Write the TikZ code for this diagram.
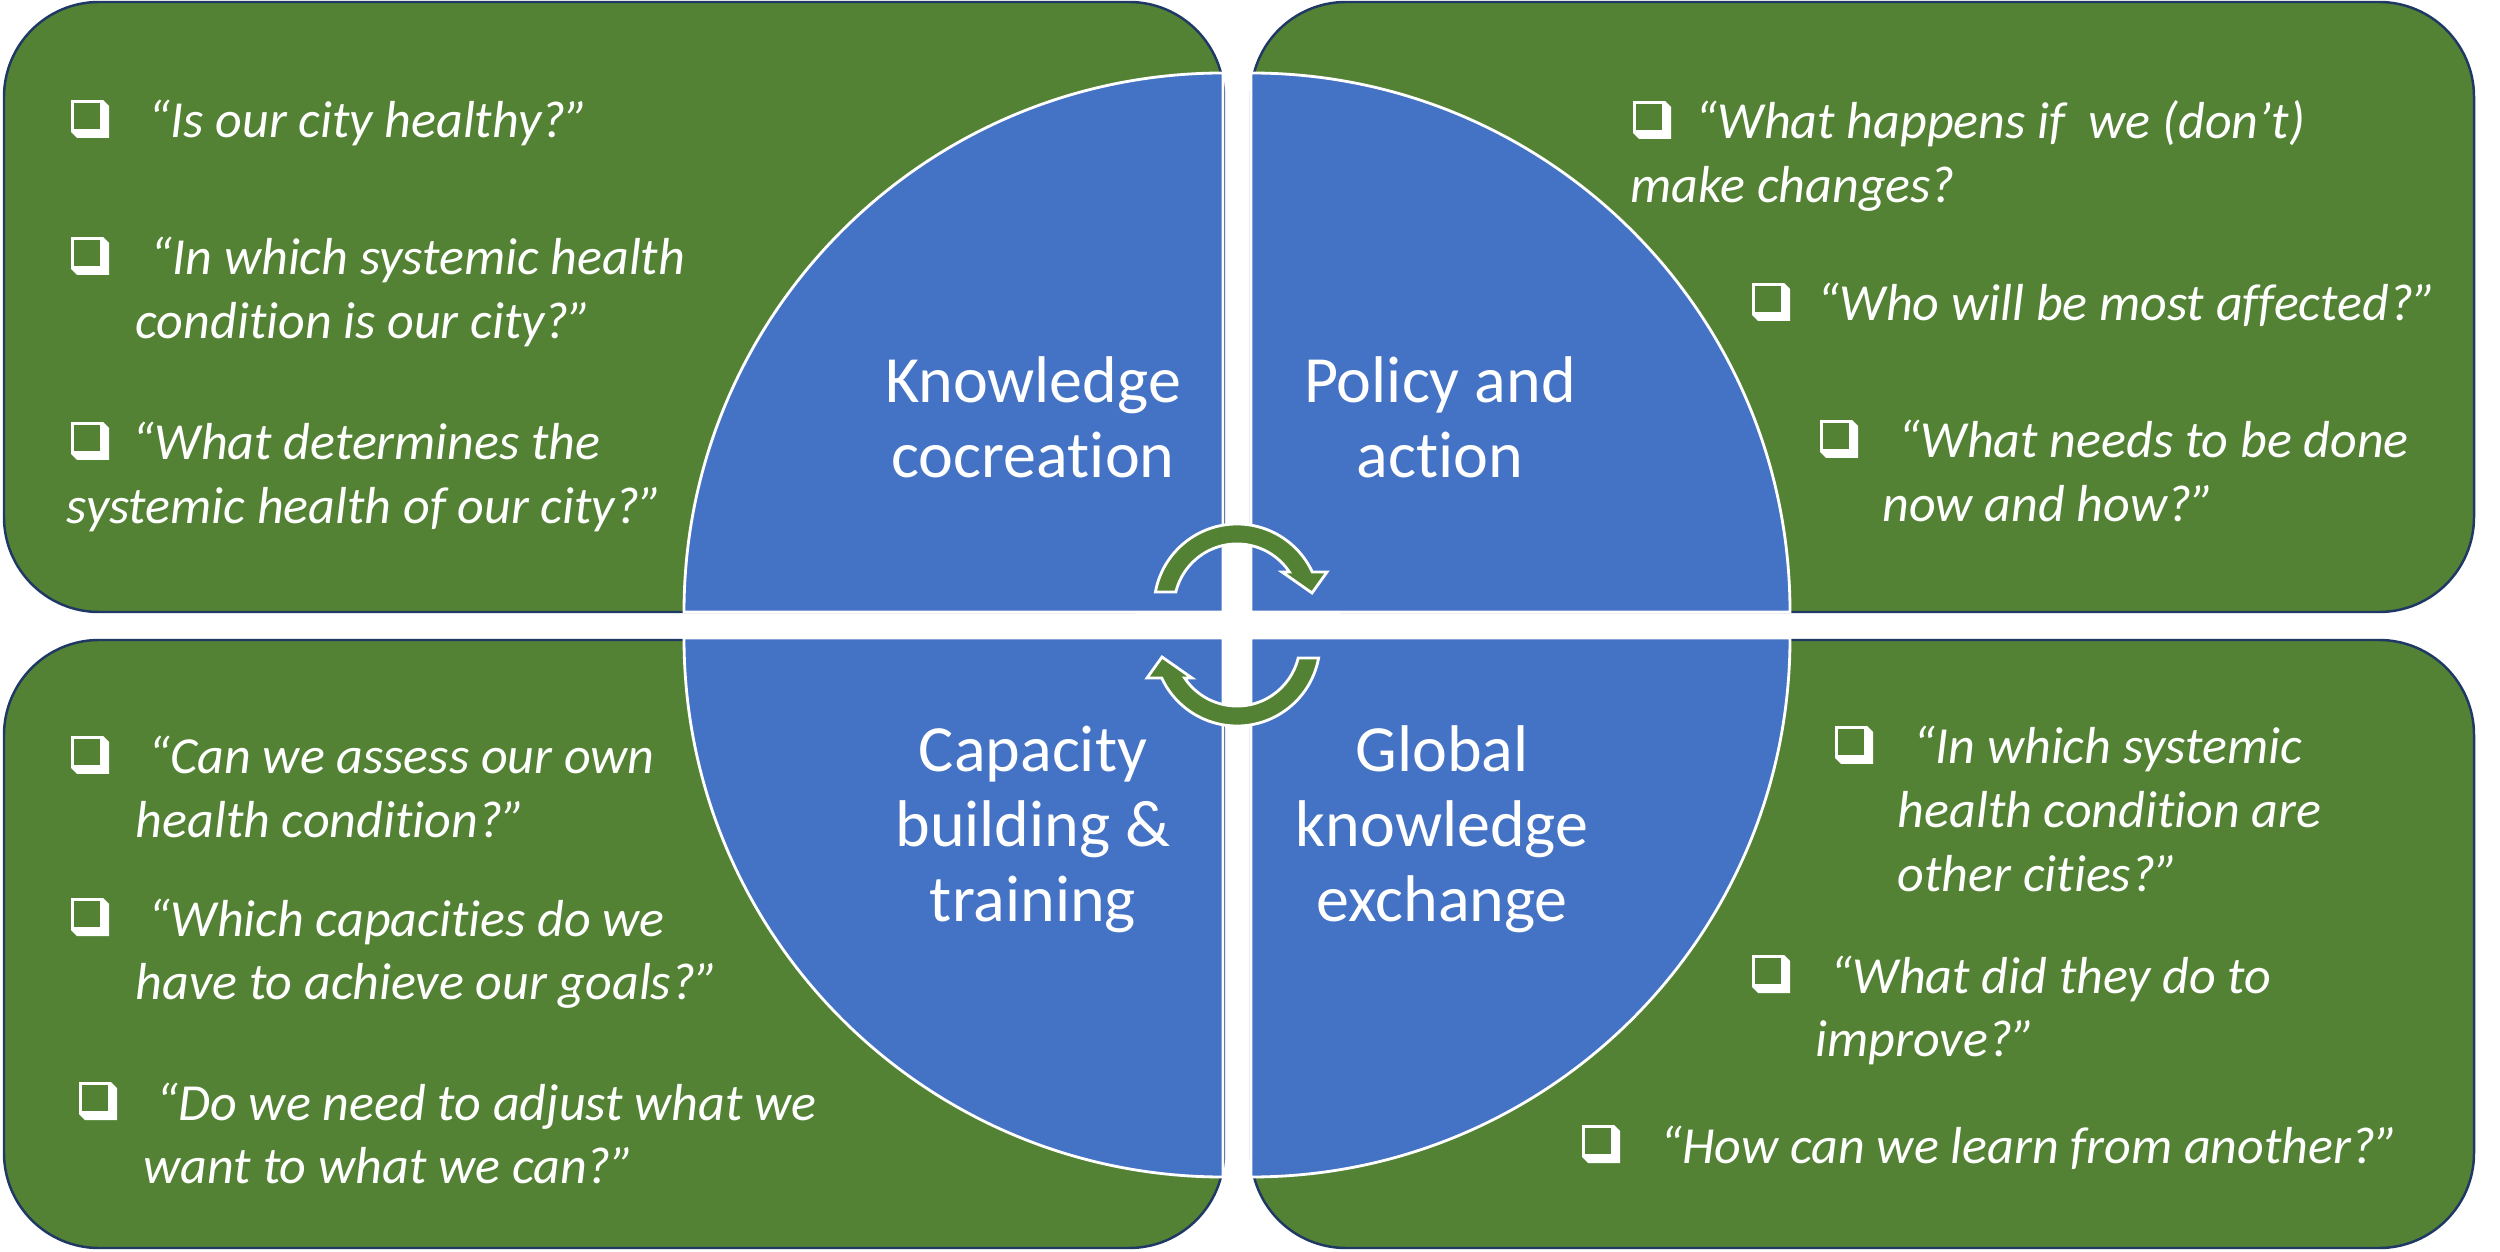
\documentclass[tikz,border=0pt]{standalone}
\usepackage{fontspec}
\setmainfont{Carlito}[Ligatures=CommonOff]
\newdimen\pxu \pxu=0.01cm
\definecolor{boxgreen}{HTML}{548235}
\definecolor{quadblue}{HTML}{4472C4}
\definecolor{navy}{HTML}{1F3864}
\newcommand\stackc[1]{\vtop{\halign{\hfil##\hfil\cr#1\crcr}}}
\newcommand\twol[3]{\vtop{\hbox{#1}\hbox{\hskip#2\pxu\relax#3}}}
\begin{document}
\begin{tikzpicture}[x=0.01cm,y=0.01cm,
  gbox/.style={fill=boxgreen, draw=navy, line width=0.7pt, rounded corners=27pt},
  quad/.style={fill=quadblue, draw=white, line width=0.8pt},
  lbl/.style={text=white, inner sep=0pt, anchor=base, font=\fontsize{18.78}{21.2}\selectfont},
  qst/.style={text=white, inner sep=0pt, anchor=base west, font=\fontsize{14.8}{18.07}\selectfont\itshape},
  cyc/.style={fill=boxgreen, draw=white, line width=0.8pt},
  cbox/.pic={
    \fill[white] (32,38) -- (38,32) -- (38,0) -- (6,0) -- (0,6) -- (32,6) -- cycle;
    \draw[white, line width=0.8pt] (1.5,7.5) rectangle (30.5,36.5);
  },
  cycarrow/.pic={
    \path[cyc] (-61.2,15) -- (-81.6,15) arc[start angle=169.6, end angle=24.9, radius=83]
      -- (90,35) -- (75,14) -- (45,35) -- (52.4,35)
      arc[start angle=33.7, end angle=166.2, radius=63] -- cycle;
  }
]
\useasboundingbox (0,0) rectangle (2500,1251);

% green panels
\path[gbox] (4,639) rectangle (1224,1249);
\path[gbox] (1251,639) rectangle (2474,1249);
\path[gbox] (4,3) rectangle (1224,611);
\path[gbox] (1251,3) rectangle (2474,611);

% blue quadrants
\path[quad] (1223,639) -- ++(-539,0) arc[start angle=180, end angle=90, radius=539] -- cycle;
\path[quad] (1251,639) -- ++(0,539) arc[start angle=90, end angle=0, radius=539] -- cycle;
\path[quad] (1223,613) -- ++(0,-539) arc[start angle=270, end angle=180, radius=539] -- cycle;
\path[quad] (1251,613) -- ++(539,0) arc[start angle=0, end angle=-90, radius=539] -- cycle;

% cycle arrows
\pic at (1237,644) {cycarrow};
\pic[rotate=180] at (1237,608) {cycarrow};

% quadrant labels
\node[lbl] (kc) at (1033,848) {\stackc{Knowledge\cr cocreation}};
\node[lbl] (pa) at (1440,848) {\stackc{Policy and\cr action}};
\node[lbl] (cb) at (1033,479) {\stackc{Capacity\cr building \&\cr training}};
\node[lbl] (gk) at (1442,479) {\stackc{Global\cr knowledge\cr exchange}};

% top-left questions
\pic at (71,1113) {cbox};
\node[qst] (tl1) at (148,1113) {“Is our city healthy?”};
\pic at (71,976) {cbox};
\node[qst] (tl2) at (150,976) {\twol{“In which systemic health}{-15}{condition is our city?”}};
\pic at (71,791) {cbox};
\node[qst] (tl3) at (132,791) {\twol{“What determines the}{-66}{systemic health of our city?”}};

% top-right questions
\pic at (1633,1112) {cbox};
\node[qst] (tr1) at (1695,1112) {\twol{“What happens if~ we (don’t)}{-65}{make changes?}};
\pic at (1752,930) {cbox};
\node[qst] (tr2) at (1817,930) {“Who will be most affected?”};
\pic at (1820,793) {cbox};
\node[qst] (tr3) at (1898,793) {\twol{“What needs to be done}{-16}{now and how?”}};

% bottom-left questions
\pic at (71,477) {cbox};
\node[qst] (bl1) at (148,477) {\twol{“Can we assess our own}{-13}{health condition?”}};
\pic at (71,315) {cbox};
\node[qst] (bl2) at (148,315) {\twol{“Which capacities do we}{-13}{have to achieve our goals?”}};
\pic at (79,131) {cbox};
\node[qst] (bl3) at (156,131) {\twol{“Do we need to adjust what we}{-13}{want to what we can?”}};

% bottom-right questions
\pic at (1835,487) {cbox};
\node[qst] (br1) at (1913,487) {\vtop{\hbox{“In which systemic}\hbox{\hskip-16\pxu\relax health condition are}\hbox{\hskip-16\pxu\relax other cities?”}}};
\pic at (1752,258) {cbox};
\node[qst] (br2) at (1830,258) {\twol{“What did they do to}{-15}{improve?”}};
\pic at (1582,88) {cbox};
\node[qst] (br3) at (1660,88) {“How can we learn from another?”};
\end{tikzpicture}
\end{document}
